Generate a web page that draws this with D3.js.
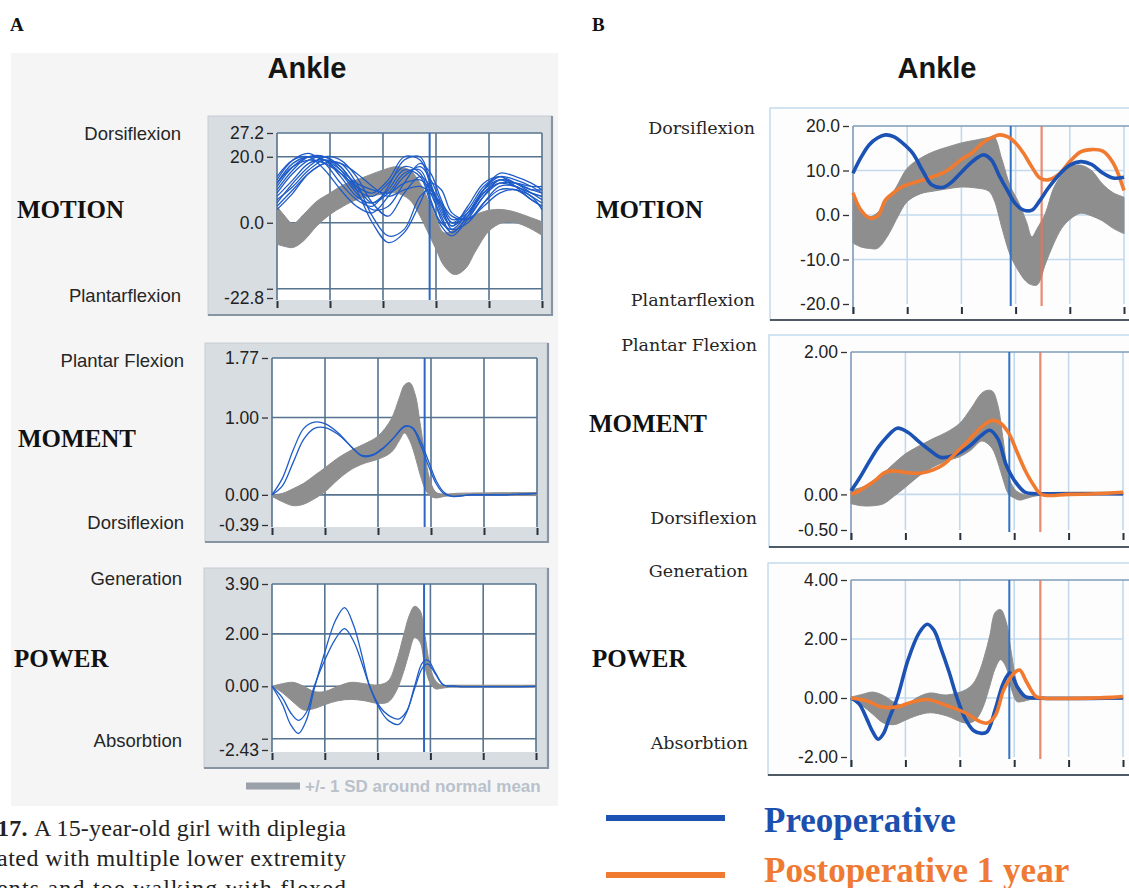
<!DOCTYPE html>
<html><head><meta charset="utf-8">
<script src="https://cdn.jsdelivr.net/npm/d3@7"></script>
<style>body{margin:0;background:#fff}svg{display:block}</style>
</head><body><svg id="c" width="1129" height="888"></svg>
<script>
// ---------------- DATA ----------------
const gaitTicks = [0, 20, 40, 60, 80, 100];
const toeOffA = 57.6, toeOffPre = 58.2, toeOffPost = 69.6;

// Panel A – Motion
const motionA_bandX  = [0,3,6,10,15,20,25,30,35,40,45,50,54,57,60,63,67,71,75,80,85,90,95,100];
const motionA_bandHi = [5,2,-0.3,2.5,6.5,9,11.5,13,14.5,16,17,16,12,7,1.5,-3,-2,1,2.5,3.8,4,3.2,1.8,0.3];
const motionA_bandLo = [-6.5,-7.2,-7.5,-5.5,-1,2.5,5,7,8,8.7,9,7,2,-3,-8,-13,-15.7,-14,-8.5,-2.5,0,0,-1.5,-3.8];
const motionA_trialX = [0,6,12,18,24,30,36,42,48,54,58,62,66,72,78,84,90,96,100];
const motionA_trials = [
  [12,18,20,19,14,8,6,10,16,14,6,0,-2,3,10,13,11,9,8],
  [9,15,19,20,17,11,6,9,15,16,9,2,-3,2,9,13,12,10,9],
  [6,12,17,20,19,14,6,2,9,14,11,4,-1,3,9,12,11,9,8],
  [4,9,15,18,18,12,2,-4,-2,8,10,5,-2,0,6,11,11,8,6],
  [13,19,21,18,12,7,5,11,19,20,12,3,-1,5,12,14,12,9,7],
  [10,16,20,20,16,10,8,12,17,15,7,-1,-4,1,8,13,12,10,10],
  [8,13,18,19,16,12,10,9,12,13,10,5,0,2,8,12,12,11,11],
  [14,19,20,16,10,5,3,8,14,17,13,6,0,4,11,14,11,7,5],
  [7,11,16,19,17,10,0,-6,-3,6,12,10,3,1,6,10,10,8,4],
  [11,17,20,19,15,9,4,5,12,18,15,7,1,3,10,14,13,11,9],
  [5,10,15,18,18,15,11,8,10,11,9,6,2,1,5,9,10,7,5],
  [12,17,19,18,15,11,9,13,20,19,11,1,-3,2,10,15,14,12,10]
];
const motionA_ticks = [27.2, 20, 0, -20, -22.8];
const motionA_tickLabels = ["27.2", "20.0", "0.0", "", "-22.8"];
const motionA_grid = [27.2, 20, 0, -20];

// Panel A – Moment
const momentA_bandX  = [0,4,8,12,16,20,25,30,35,40,45,48,50,52,54,56,58,60,62,65,70,100];
const momentA_bandHi = [0,0.02,0.08,0.15,0.25,0.35,0.48,0.58,0.66,0.76,0.98,1.25,1.42,1.45,1.3,0.9,0.45,0.15,0.03,0.01,0.02,0.03];
const momentA_bandLo = [-0.02,-0.09,-0.14,-0.12,-0.05,0.04,0.2,0.33,0.41,0.46,0.55,0.7,0.8,0.7,0.5,0.25,0.06,-0.02,-0.04,-0.02,-0.01,-0.01];
const momentA_trialX = [0,4,8,12,16,20,25,30,34,38,42,46,50,53,56,59,62,65,68,75,85,95,100];
const momentA_trials = [
  [0,0.22,0.58,0.86,0.94,0.92,0.8,0.62,0.5,0.51,0.6,0.74,0.89,0.86,0.65,0.38,0.14,0.01,-0.02,0,0,0.01,0.02],
  [0,0.12,0.42,0.72,0.86,0.87,0.78,0.62,0.51,0.52,0.61,0.74,0.88,0.87,0.7,0.44,0.18,0.03,-0.02,0,0,0.01,0.02]
];
const momentA_ticks = [1.77, 1.00, 0.00, -0.39];
const momentA_tickLabels = ["1.77", "1.00", "0.00", "-0.39"];
const momentA_grid = [1.77, 1.0, 0.0];

// Panel A – Power
const powerA_bandX  = [0,4,8,12,16,20,25,30,35,40,44,47,50,52,54,56,58,60,62,64,67,70,100];
const powerA_bandHi = [0,0.1,0.15,0,-0.2,-0.2,0,0.15,0.1,0.05,0.2,0.9,2.0,2.7,3.05,2.9,1.9,0.7,0.2,0.05,0.04,0.04,0.04];
const powerA_bandLo = [0,-0.25,-0.6,-0.9,-0.85,-0.7,-0.55,-0.5,-0.55,-0.65,-0.6,-0.2,0.6,1.3,1.85,1.7,0.7,0.1,-0.1,-0.08,-0.04,-0.04,-0.04];
const powerA_trialX = [0,4,7,10,13,16,20,24,27.5,31,34,37,41,44,48,51,54,57,59,62,65,70,100];
const powerA_trials = [
  [0,-0.7,-1.45,-1.8,-1.3,-0.1,1.3,2.5,3.0,2.3,1.2,0.0,-0.9,-1.3,-1.45,-1.0,0.0,0.9,1.0,0.5,0.05,0,0],
  [0,-0.45,-1.0,-1.3,-1.0,0.0,1.0,1.8,2.2,1.7,0.9,0.0,-0.8,-1.1,-1.25,-0.95,-0.1,0.7,0.85,0.45,0.05,0,0]
];
const powerA_ticks = [3.90, 2.00, 0.00, -2.00, -2.43];
const powerA_tickLabels = ["3.90", "2.00", "0.00", "", "-2.43"];
const powerA_grid = [3.9, 2.0, 0.0, -2.0];

// Panel B – Motion
const motionB_bandX  = [0,3,6,9,13,16,20,25,30,35,40,45,50,52,55,58,61,64,66,68,71,74,77,80,84,88,92,96,100];
const motionB_bandHi = [4,1.5,-0.4,0.5,3.5,6.3,10.5,12.8,14.3,15.3,16.2,16.8,17.4,17.6,12.4,6.5,3,-1.5,-4.9,-3,0.4,6,9,10.8,11.2,10,7,5,4];
const motionB_bandLo = [-6.3,-7.2,-7.5,-7.5,-4.5,-1,3,4.8,5.4,5.9,6.3,6.1,5.4,3.5,-3,-9,-12.5,-15,-15.7,-15.7,-11,-6.5,-3,-1,0.4,-0.2,-1.3,-3,-4.2];
const motionB_x = [0,3,6,9,12,15,18,22,26,29,33,36,40,44,48,51,54,57,60,63,66,69,72,76,80,84,88,92,96,100];
const motionB_pre  = [9.4,13,15.8,17.3,18,17.6,16.3,13.9,9.6,6.8,6.2,7.2,9.6,12,13.5,12.4,8.8,5.5,2.5,1.1,1.1,3.3,6,9,11.2,12,11.4,9.5,8.3,8.5];
const motionB_post = [5,1.0,-0.6,-0.3,3.4,5,6.3,7.2,7.9,8.5,9.4,10.5,12.5,14,16.3,17.3,18,17.6,16.2,13.8,10.8,8.3,7.9,9.2,12,14.2,14.7,14.4,11.7,5.5];
const motionB_ticks = [20, 10, 0, -10, -20];
const motionB_tickLabels = ["20.0", "10.0", "0.0", "-10.0", "-20.0"];
const motionB_grid = [10, 0, -10];

// Panel B – Moment
const momentB_bandX  = [0,4,8,12,16,20,25,30,35,40,44,48,50,52,54,56,58,60,62,65,70,100];
const momentB_bandHi = [0.06,0.1,0.17,0.3,0.44,0.57,0.68,0.78,0.87,1.0,1.2,1.42,1.46,1.45,1.25,0.75,0.25,0.08,0.02,-0.01,0.02,0.03];
const momentB_bandLo = [-0.13,-0.16,-0.16,-0.13,-0.02,0.1,0.26,0.38,0.47,0.53,0.62,0.75,0.72,0.64,0.45,0.2,0.0,-0.05,-0.08,-0.05,-0.01,-0.01];
const momentB_preX = [0,3,7,10,13,17,21,25,29,33,38,43,48,51,54,57,60,64,68,80,90,100];
const momentB_pre  = [0.05,0.22,0.48,0.66,0.8,0.93,0.87,0.74,0.62,0.52,0.55,0.66,0.83,0.9,0.78,0.42,0.2,0.03,0.01,0.01,0.01,0.01];
const momentB_postX = [0,3,6,9,12,15,18,22,26,30,34,38,42,46,49,52,55,58,61,64,67,70,80,90,100];
const momentB_post  = [0,0.05,0.12,0.2,0.3,0.33,0.32,0.3,0.3,0.34,0.42,0.56,0.71,0.87,0.98,1.04,1.0,0.86,0.6,0.34,0.14,0.0,0.0,0.01,0.03];
const momentB_ticks = [2.0, 0.0, -0.5];
const momentB_tickLabels = ["2.00", "0.00", "-0.50"];
const momentB_grid = [0.0];

// Panel B – Power
const powerB_bandX  = [0,4,8,12,16,20,24,29,35,42,45,47,49,51,53,55,57,59,61,63,66,70,100];
const powerB_bandHi = [0.03,0.12,0.2,0.08,-0.15,-0.25,0,0.17,0.1,0.27,0.5,0.85,1.4,2.1,2.9,3.0,2.6,1.5,0.5,0.1,0.03,0.03,0.03];
const powerB_bandLo = [-0.05,-0.25,-0.55,-0.85,-0.9,-0.75,-0.6,-0.5,-0.6,-0.85,-0.8,-0.6,-0.2,0.4,1.0,1.3,1.05,0.3,-0.12,-0.12,-0.05,-0.03,-0.03];
const powerB_preX = [0,3,6,8,10,12,14,17,21,25,28,30.5,33,36,39,42,45,48,50,53,56,58.5,61,64,68,100];
const powerB_pre  = [0,-0.2,-0.75,-1.15,-1.4,-1.2,-0.7,0,1.3,2.2,2.5,2.3,1.7,0.9,0,-0.7,-1.1,-1.2,-1.15,-0.4,0.5,0.85,0.4,0.05,0,0];
const powerB_postX = [0,6,11,17,22,28,35,42,47,50,53,56,58,60,62,64.5,68,70,90,96,100];
const powerB_post  = [0,-0.1,-0.3,-0.3,-0.15,-0.05,-0.25,-0.5,-0.78,-0.85,-0.6,0.25,0.6,0.85,0.95,0.55,0.05,0,0,0.02,0.05];
const powerB_ticks = [4, 2, 0, -2];
const powerB_tickLabels = ["4.00", "2.00", "0.00", "-2.00"];
const powerB_grid = [2, 0];

const legendB = ["Preoperative", "Postoperative 1 year"];
const legendA = "+/- 1 SD around normal mean";
const captionLines = ["A 15-year-old girl with diplegia", "ated with multiple lower extremity", "ents and toe walking with flexed"];

// ---------------- DRAWING ----------------
const svg = d3.select("#c");
const BLUE_A = "#1f5cc8", BLUE_B = "#1b52b3", ORANGE_B = "#f07a30", BAND = "#8e8e8e";

svg.append("rect").attr("x", 11).attr("y", 53).attr("width", 547).attr("height", 753).attr("fill", "#f5f5f5");

function toPts(xs, ys) { return xs.map((v, i) => [v, ys[i]]); }

function chart(o) {
  const x = d3.scaleLinear().domain([0, 100]).range([o.plot[0], o.plot[1]]);
  const y = d3.scaleLinear().domain(o.domain).range([o.plot[3], o.plot[2]]);
  const g = svg.append("g");
  const f = o.frame;
  const top = o.plot[2], bot = o.plot[3];
  if (o.kind === "A") {
    g.append("rect").attr("x", f[0]).attr("y", f[1]).attr("width", f[2] - f[0]).attr("height", f[3] - f[1])
      .attr("fill", "#d8dde2").attr("stroke", "#c6ccd3").attr("stroke-width", 1);
    g.append("path").attr("d", `M${f[2]},${f[1]}V${f[3]}H${f[0]}`).attr("stroke", "#8795a2").attr("stroke-width", 2.2).attr("fill", "none");
    g.append("rect").attr("x", o.plot[0]).attr("y", top).attr("width", o.plot[1] - o.plot[0]).attr("height", bot - top + 2).attr("fill", "#fff");
  } else {
    g.append("rect").attr("x", f[0]).attr("y", f[1]).attr("width", f[2] - f[0]).attr("height", f[3] - f[1])
      .attr("fill", "#fdfdfd").attr("stroke", "#c4dbee").attr("stroke-width", 1.5);
    g.append("line").attr("x1", f[0]).attr("x2", f[2]).attr("y1", f[3]).attr("y2", f[3]).attr("stroke", "#4e5a66").attr("stroke-width", 2);
  }
  const gridC = o.kind === "A" ? "#56748f" : "#c3daee";
  g.selectAll(".vg").data(gaitTicks.slice(o.kind === "A" ? 0 : 1)).join("line")
    .attr("x1", d => x(d)).attr("x2", d => x(d)).attr("y1", top).attr("y2", bot + (o.kind === "A" ? 2 : 0))
    .attr("stroke", gridC).attr("stroke-width", 1.6);
  g.selectAll(".hg").data(o.grid).join("line")
    .attr("x1", o.plot[0]).attr("x2", o.plot[1]).attr("y1", d => y(d)).attr("y2", d => y(d))
    .attr("stroke", gridC).attr("stroke-width", 1.6);
  if (o.kind === "B") {
    g.append("line").attr("x1", o.plot[0]).attr("x2", 1129).attr("y1", top).attr("y2", top).attr("stroke", "#7d9bb8").attr("stroke-width", 1.6);
    g.append("line").attr("x1", o.plot[0]).attr("x2", o.plot[0]).attr("y1", top).attr("y2", bot + 10).attr("stroke", "#7d9bb8").attr("stroke-width", 1.6);
  }
  const area = d3.area().x(d => x(d[0])).y0(d => y(d[1])).y1(d => y(d[2])).curve(d3.curveCatmullRom.alpha(0.5));
  g.append("path").datum(o.bandX.map((v, i) => [v, o.bandLo[i], o.bandHi[i]]))
    .attr("d", area).attr("fill", BAND).attr("stroke", BAND).attr("stroke-width", 1);
  (o.vlines || []).forEach(v => {
    g.append("line").attr("x1", x(v.at)).attr("x2", x(v.at)).attr("y1", top).attr("y2", bot + 2)
      .attr("stroke", v.color).attr("stroke-width", v.w).attr("opacity", v.op || 1);
  });
  const line = d3.line().x(d => x(d[0])).y(d => y(d[1])).curve(d3.curveCatmullRom.alpha(0.5));
  o.traces.forEach(t => {
    g.append("path").datum(toPts(t.x, t.y)).attr("d", line).attr("fill", "none")
      .attr("stroke", t.color).attr("stroke-width", t.w).attr("stroke-linejoin", "round");
  });
  const ya = d3.axisLeft(y).tickValues(o.ticks).tickSize(6).tickPadding(3)
    .tickFormat((d, i) => o.tickLabels[i]);
  const ay = g.append("g").attr("transform", `translate(${o.plot[0] - 4},0)`).call(ya);
  ay.select(".domain").remove();
  ay.selectAll("line").attr("stroke", "#333").attr("stroke-width", 1.3);
  ay.selectAll("text").attr("font-family", "Liberation Sans, Arial, sans-serif").attr("font-size", o.kind === "A" ? 17.5 : 17.5).attr("fill", "#222");
  const xa = d3.axisBottom(x).tickValues(gaitTicks).tickSize(7).tickFormat("");
  const ax = g.append("g").attr("transform", `translate(0,${bot + 3})`).call(xa);
  ax.select(".domain").remove();
  ax.selectAll("line").attr("stroke", "#27313b").attr("stroke-width", 2);
  const sf = o.kind === "A" ? "Liberation Sans, Arial, sans-serif" : "DejaVu Serif, serif";
  const ss = o.kind === "A" ? 18.5 : 17.5;
  [[o.sideTop, o.sideLabels[0]], [o.sideBot, o.sideLabels[1]]].forEach(([yy, t]) => {
    g.append("text").attr("x", o.sideX).attr("y", yy).attr("text-anchor", "end").attr("dominant-baseline", "central")
      .attr("font-family", sf).attr("font-size", ss).attr("fill", "#262626").text(t);
  });
  g.append("text").attr("x", o.rowX).attr("y", o.rowY).attr("dominant-baseline", "central")
    .attr("font-family", "Liberation Serif, Times New Roman, serif").attr("font-weight", "bold").attr("font-size", 25)
    .attr("fill", "#111").text(o.rowLabel);
}

const A_trace = (xs, arr) => arr.map(v => ({ x: xs, y: v, color: BLUE_A, w: 1.3 }));

chart({ kind: "A", frame: [208, 116, 552, 315], plot: [277, 542, 133, 298], domain: [-22.8, 27.2],
  grid: motionA_grid, ticks: motionA_ticks, tickLabels: motionA_tickLabels,
  bandX: motionA_bandX, bandHi: motionA_bandHi, bandLo: motionA_bandLo,
  vlines: [{ at: toeOffA, color: "#2a68c4", w: 2 }],
  traces: A_trace(motionA_trialX, motionA_trials),
  sideX: 181, sideTop: 133, sideBot: 295, sideLabels: ["Dorsiflexion", "Plantarflexion"],
  rowX: 17, rowY: 209, rowLabel: "MOTION" });

chart({ kind: "A", frame: [205, 343, 548, 542], plot: [272, 537, 358, 525], domain: [-0.39, 1.77],
  grid: momentA_grid, ticks: momentA_ticks, tickLabels: momentA_tickLabels,
  bandX: momentA_bandX, bandHi: momentA_bandHi, bandLo: momentA_bandLo,
  vlines: [{ at: toeOffA, color: "#2a68c4", w: 2 }],
  traces: A_trace(momentA_trialX, momentA_trials),
  sideX: 184, sideTop: 360, sideBot: 522, sideLabels: ["Plantar Flexion", "Dorsiflexion"],
  rowX: 18, rowY: 438, rowLabel: "MOMENT" });

chart({ kind: "A", frame: [204, 568, 548, 768], plot: [272, 536, 584, 750], domain: [-2.43, 3.9],
  grid: powerA_grid, ticks: powerA_ticks, tickLabels: powerA_tickLabels,
  bandX: powerA_bandX, bandHi: powerA_bandHi, bandLo: powerA_bandLo,
  vlines: [{ at: toeOffA, color: "#2a68c4", w: 2 }],
  traces: A_trace(powerA_trialX, powerA_trials),
  sideX: 182, sideTop: 578, sideBot: 740, sideLabels: ["Generation", "Absorbtion"],
  rowX: 14, rowY: 658, rowLabel: "POWER" });

const vB = [{ at: toeOffPre, color: "#2f72c6", w: 2 }, { at: toeOffPost, color: "#e6765a", w: 2.2, op: 0.85 }];

chart({ kind: "B", frame: [770, 108, 1140, 320], plot: [853, 1124, 126, 304], domain: [-20, 20],
  grid: motionB_grid, ticks: motionB_ticks, tickLabels: motionB_tickLabels,
  bandX: motionB_bandX, bandHi: motionB_bandHi, bandLo: motionB_bandLo, vlines: vB,
  traces: [{ x: motionB_x, y: motionB_post, color: ORANGE_B, w: 3.6 }, { x: motionB_x, y: motionB_pre, color: BLUE_B, w: 3.6 }],
  sideX: 755, sideTop: 128, sideBot: 300, sideLabels: ["Dorsiflexion", "Plantarflexion"],
  rowX: 596, rowY: 209, rowLabel: "MOTION" });

chart({ kind: "B", frame: [769, 335, 1140, 547], plot: [851, 1123, 352, 530], domain: [-0.5, 2.0],
  grid: momentB_grid, ticks: momentB_ticks, tickLabels: momentB_tickLabels,
  bandX: momentB_bandX, bandHi: momentB_bandHi, bandLo: momentB_bandLo, vlines: vB,
  traces: [{ x: momentB_preX, y: momentB_pre, color: BLUE_B, w: 3.6 }, { x: momentB_postX, y: momentB_post, color: ORANGE_B, w: 3.6 }],
  sideX: 757, sideTop: 345, sideBot: 518, sideLabels: ["Plantar Flexion", "Dorsiflexion"],
  rowX: 589, rowY: 423, rowLabel: "MOMENT" });

chart({ kind: "B", frame: [768, 563, 1140, 775], plot: [851, 1123, 580, 757], domain: [-2, 4],
  grid: powerB_grid, ticks: powerB_ticks, tickLabels: powerB_tickLabels,
  bandX: powerB_bandX, bandHi: powerB_bandHi, bandLo: powerB_bandLo, vlines: vB,
  traces: [{ x: powerB_preX, y: powerB_pre, color: BLUE_B, w: 3.6 }, { x: powerB_postX, y: powerB_post, color: ORANGE_B, w: 3.6 }],
  sideX: 748, sideTop: 571, sideBot: 743, sideLabels: ["Generation", "Absorbtion"],
  rowX: 592, rowY: 658, rowLabel: "POWER" });

// titles & panel letters
[["A", 10], ["B", 592]].forEach(([t, xp]) => svg.append("text").attr("x", xp).attr("y", 31)
  .attr("font-family", "Liberation Serif, Times New Roman, serif").attr("font-weight", "bold").attr("font-size", 19).attr("fill", "#111").text(t));
[307, 937].forEach(cx => svg.append("text").attr("x", cx).attr("y", 78).attr("text-anchor", "middle")
  .attr("font-family", "Liberation Sans, Arial, sans-serif").attr("font-weight", "bold").attr("font-size", 29).attr("fill", "#151515").text("Ankle"));

// legend A
svg.append("line").attr("x1", 246).attr("x2", 300).attr("y1", 786).attr("y2", 786).attr("stroke", "#9aa1a9").attr("stroke-width", 7);
svg.append("text").attr("x", 305).attr("y", 786).attr("dominant-baseline", "central")
  .attr("font-family", "Liberation Sans, Arial, sans-serif").attr("font-weight", "bold").attr("font-size", 17).attr("fill", "#b9c1cb").text(legendA);

// legend B
[[legendB[0], BLUE_B, 818, 820, "#1d4fae"], [legendB[1], ORANGE_B, 875, 870, "#ee7a34"]].forEach(([t, c, ly, ty, tc]) => {
  svg.append("line").attr("x1", 606).attr("x2", 725).attr("y1", ly).attr("y2", ly).attr("stroke", c).attr("stroke-width", 6);
  svg.append("text").attr("x", 764).attr("y", ty).attr("dominant-baseline", "central")
    .attr("font-family", "Liberation Serif, Times New Roman, serif").attr("font-weight", "bold").attr("font-size", 35).attr("fill", tc).text(t);
});

// caption (cut off at left/bottom as in the source)
captionLines.forEach((t, i) => {
  const tx = svg.append("text").attr("x", -3).attr("y", 836 + i * 30)
    .attr("textLength", 349).attr("lengthAdjust", "spacing")
    .attr("font-family", "Liberation Serif, Times New Roman, serif").attr("font-size", 24).attr("fill", "#222");
  if (i === 0) tx.append("tspan").attr("font-weight", "bold").text("17. ");
  tx.append("tspan").text(t);
});
</script></body></html>
